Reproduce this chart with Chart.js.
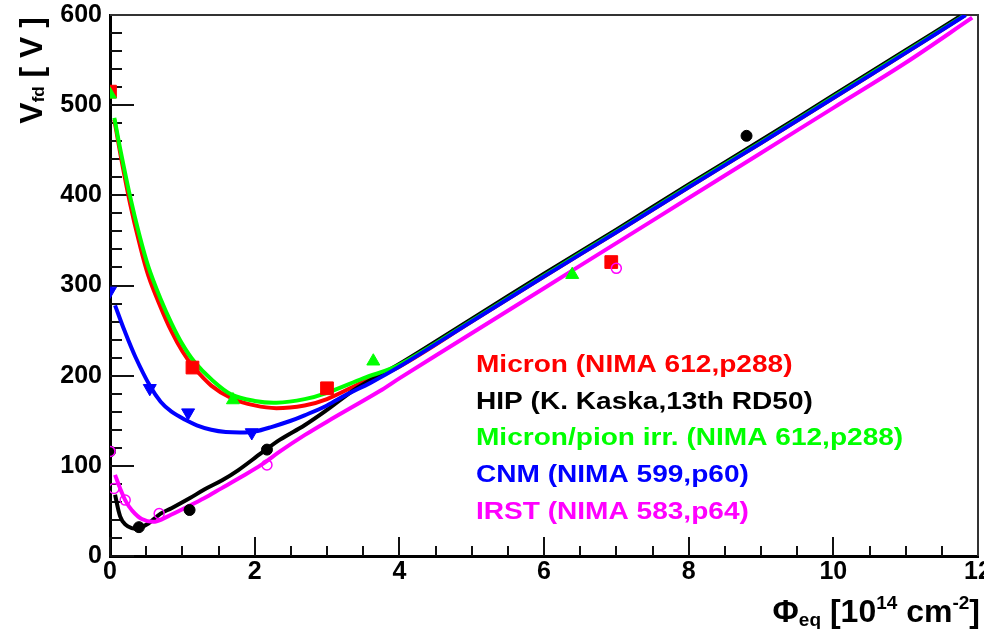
<!DOCTYPE html>
<html><head><meta charset="utf-8">
<script src="https://cdn.jsdelivr.net/npm/chart.js@4.4.0/dist/chart.umd.min.js"></script>
<style>
html,body{margin:0;padding:0;background:#fff;overflow:hidden;width:984px;height:629px}
#wrap{position:absolute;left:0;top:0;width:1000px;height:629px}
</style>
</head><body><div id="wrap"><canvas id="c" width="1000" height="629"></canvas></div>
<script>
// ---------- data ----------
// measured points
const micronX = [0, 1.14, 3.0, 6.93];
const micronY = [515, 209, 186, 326];
const hipX = [0, 0.40, 1.10, 2.17, 8.80];
const hipY = [116, 32, 51, 118, 466];
const pionX = [0, 1.70, 3.64, 6.39];
const pionY = [512, 173, 216, 312];
const cnmX = [0, 0.55, 1.08, 1.96];
const cnmY = [294, 186, 159, 137];
const irstX = [0, 0.055, 0.21, 0.68, 2.17, 7.0];
const irstY = [116, 75, 62, 47, 101, 319];

// fitted curves
const micronFitX = [0.06,0.15,0.28,0.4,0.53,0.7,0.85,1.0,1.15,1.4,1.68,2.0,2.3,2.69,3.0,3.5,4.0,5,6,7,8,9,10,11,11.82];
const micronFitY = [484,443,390,349,311,276,249,227,210,189,175,167,164,167,174,193,210,260,310,359,409,458,508,558,600];
const pionFitX = [0.06,0.15,0.28,0.4,0.53,0.7,0.85,1.0,1.17,1.4,1.68,2.0,2.3,2.69,3.0,3.5,4.0,5,6,7,8,9,10,11,11.82];
const pionFitY = [486,448,398,358,321,285,258,235,215,196,179,172,170,174,181,197,212,261,311,360,410,459,509,559,600];
const cnmFitX = [0.07,0.2,0.35,0.55,0.7,0.85,1.04,1.2,1.4,1.6,1.86,2.0,2.23,2.5,2.69,3.0,3.27,3.6,4.0,5,6,7,8,9,10,11,11.83];
const cnmFitY = [278,250,221,189,171,160,151,145,140,137.5,137,138,143,150,156,167,179,192,210,260,310,359,409,458,508,558,600];
const hipFitX = [0.07,0.14,0.21,0.3,0.39,0.53,0.7,0.85,1.1,1.31,1.55,1.77,2.09,2.35,2.69,3.0,3.41,4.0,5,6,7,8,9,10,11,11.78];
const hipFitY = [68,44,35,31,30.5,36,47,53,64,74,84,95,114,129,145,162,186,213,263,313,362,412,461,511,561,600];
const irstFitX = [0.07,0.14,0.21,0.3,0.44,0.62,0.8,1.08,1.3,1.54,1.8,2.09,2.35,2.69,3.0,3.73,4.0,5,6,7,8,9,10,11,11.92];
const irstFitY = [90,75,62,51,41,38,44,55,64,75,87,101,116,134,149,183,197,247,297,347,397,447,497,547,597];

// axes
const xMin = 0, xMax = 12, xStep = 2;
const yMin = 0, yMax = 600, yStep = 100;

// legend
const legendTexts = ["Micron (NIMA 612,p288)", "HIP (K. Kaska,13th RD50)", "Micron/pion irr. (NIMA 612,p288)", "CNM (NIMA 599,p60)", "IRST (NIMA 583,p64)"];
const legendColors = ["#ff0000", "#000000", "#00ff00", "#0000ff", "#ff00ff"];

// axis titles (rich text segments)
const yTitle = [{t:"V", s:32}, {t:"fd", s:17, dy:2}, {t:" [ V ]", s:32}];
const xTitle = [{t:"\u03A6", s:32}, {t:"eq", s:19, dy:4}, {t:" [10", s:32}, {t:"14", s:19, dy:-13}, {t:" cm", s:32}, {t:"-2", s:19, dy:-13}, {t:"]", s:32}];

// ---------- chart ----------
const FONT = '"Liberation Sans", Arial, Helvetica, sans-serif';
const pts = (xs, ys) => xs.map((x, i) => ({x: x, y: ys[i]}));

function richWidth(ctx, segs) {
  let w = 0;
  for (const s of segs) { ctx.font = 'bold ' + s.s + 'px ' + FONT; w += ctx.measureText(s.t).width; }
  return w;
}
function drawRich(ctx, segs, x, y) {
  let cx = x;
  for (const s of segs) {
    ctx.font = 'bold ' + s.s + 'px ' + FONT;
    ctx.fillText(s.t, cx, y + (s.dy || 0));
    cx += ctx.measureText(s.t).width;
  }
}

const framePlugin = {
  id: 'rootFrame',
  beforeDatasetsDraw(chart) {
    const {ctx, chartArea: a, scales: {x, y}} = chart;
    ctx.save();
    ctx.strokeStyle = '#111';
    ctx.lineWidth = 2;
    const seg = (x1, y1, x2, y2) => { ctx.beginPath(); ctx.moveTo(x1, y1); ctx.lineTo(x2, y2); ctx.stroke(); };
    const xv = x.ticks.map(t => t.value);
    xv.forEach((v, i) => {
      const p = Math.round(x.getPixelForValue(v));
      seg(p, a.bottom, p, a.bottom - 19);
      if (i < xv.length - 1) {
        for (let k = 1; k < 4; k++) {
          const q = Math.round(x.getPixelForValue(v + (xv[i + 1] - v) * k / 4));
          seg(q, a.bottom, q, a.bottom - 10);
        }
      }
    });
    const yv = y.ticks.map(t => t.value);
    yv.forEach((v, i) => {
      const p = Math.round(y.getPixelForValue(v));
      seg(a.left, p, a.left + 24, p);
      if (i < yv.length - 1) {
        for (let k = 1; k < 5; k++) {
          const q = Math.round(y.getPixelForValue(v + (yv[i + 1] - v) * k / 5));
          seg(a.left, q, a.left + 12, q);
        }
      }
    });
    ctx.strokeStyle = '#333';
    ctx.lineWidth = 2;
    ctx.beginPath();
    ctx.moveTo(a.left, a.top); ctx.lineTo(a.right, a.top); ctx.lineTo(a.right, a.bottom);
    ctx.stroke();
    ctx.restore();
  },
  afterDraw(chart) {
    const {ctx, chartArea: a} = chart;
    ctx.save();
    ctx.fillStyle = '#000';
    ctx.textBaseline = 'alphabetic';
    ctx.textAlign = 'left';
    const xw = richWidth(ctx, xTitle);
    drawRich(ctx, xTitle, a.right + 2 - xw, 622);
    const yw = richWidth(ctx, yTitle);
    ctx.save();
    ctx.translate(42, a.top + 2 + yw);
    ctx.rotate(-Math.PI / 2);
    drawRich(ctx, yTitle, 0, 0);
    ctx.restore();
    const base0 = 372, step = 36.7;
    legendTexts.forEach((t, i) => {
      ctx.save();
      ctx.fillStyle = legendColors[i];
      ctx.font = 'bold 23px ' + FONT;
      ctx.translate(476, base0 + i * step);
      ctx.scale(1.22, 1);
      ctx.fillText(t, 0, 0);
      ctx.restore();
    });
    ctx.restore();
  }
};

const curve = (label, xs, ys, color, order) => ({
  label, data: pts(xs, ys), showLine: true, borderColor: color, backgroundColor: color,
  borderWidth: 4, pointRadius: 0, pointHoverRadius: 0, tension: 0.35, order
});
const marker = (label, xs, ys, color, style, radius, order, extra) => Object.assign({
  label, data: pts(xs, ys), showLine: false, pointStyle: style, pointRadius: radius, pointHoverRadius: radius,
  backgroundColor: color, borderColor: color, pointBorderWidth: 1, order
}, extra || {});

new Chart(document.getElementById('c'), {
  type: 'scatter',
  data: {
    datasets: [
      curve('Micron fit', micronFitX, micronFitY, '#ff0000', 14),
      curve('HIP fit', hipFitX, hipFitY, '#000000', 13),
      curve('Micron/pion fit', pionFitX, pionFitY, '#00ff00', 12),
      curve('CNM fit', cnmFitX, cnmFitY, '#0000ff', 11),
      curve('IRST fit', irstFitX, irstFitY, '#ff00ff', 10),
      marker('Micron', micronX, micronY, '#ff0000', 'rect', 9, 5),
      marker('HIP', hipX, hipY, '#000000', 'circle', 5.5, 4),
      marker('Micron/pion irr.', pionX, pionY, '#00ff00', 'triangle', 7.5, 3),
      marker('CNM', cnmX, cnmY, '#0000ff', 'triangle', 7.5, 2, {pointRotation: 180}),
      marker('IRST', irstX, irstY, '#ff00ff', 'circle', 5, 1, {backgroundColor: 'rgba(255,255,255,0)', pointBorderWidth: 1.5})
    ]
  },
  options: {
    responsive: false,
    animation: false,
    devicePixelRatio: 1,
    layout: {padding: {top: 15, right: 22, bottom: 0, left: 0}},
    plugins: {legend: {display: false}, tooltip: {enabled: false}},
    events: [],
    scales: {
      x: {
        type: 'linear', min: xMin, max: xMax,
        afterFit: s => { s.height = 73; s.paddingLeft = 0; s.paddingRight = 0; },
        grid: {display: false, drawTicks: false},
        border: {display: true, color: '#000', width: 3},
        ticks: {stepSize: xStep, maxRotation: 0, autoSkip: false, padding: 1, color: '#000',
          font: {family: FONT, size: 25, weight: 'bold'}}
      },
      y: {
        type: 'linear', min: yMin, max: yMax,
        afterFit: s => { s.width = 110; s.paddingTop = 0; s.paddingBottom = 0; },
        grid: {display: false, drawTicks: false},
        border: {display: true, color: '#000', width: 3},
        ticks: {stepSize: yStep, padding: 8, color: '#000',
          font: {family: FONT, size: 25, weight: 'bold'}}
      }
    }
  },
  plugins: [framePlugin]
});
</script>
</body></html>
